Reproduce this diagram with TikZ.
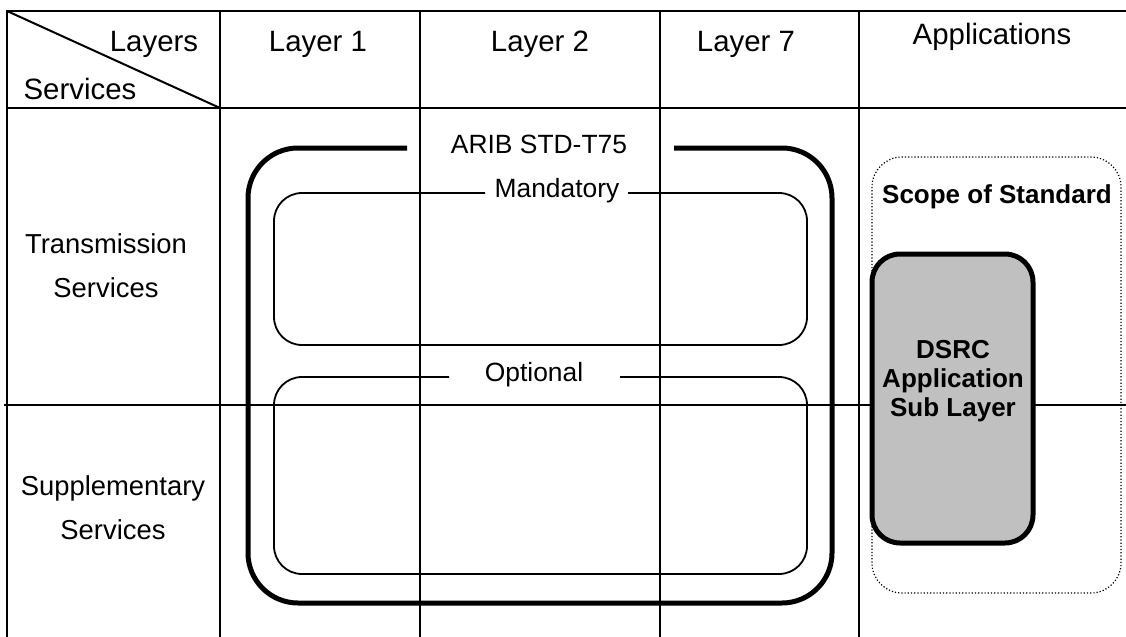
\documentclass[tikz,border=0pt]{standalone}
\usepackage{fontspec}
\setmainfont{Liberation Sans}
\usetikzlibrary{positioning}
\definecolor{dsrcgray}{RGB}{192,192,192}
\tikzset{%
  gridline/.style={line width=1pt},
  aribline/.style={line width=2.5pt, rounded corners=25pt},
  partline/.style={line width=0.9pt, rounded corners=14pt},
  scopeline/.style={line width=0.6pt, densely dotted, rounded corners=15pt},
  dsrcbox/.style={line width=2.5pt, rounded corners=14pt, fill=dsrcgray},
  headtext/.style={font=\fontsize{14.7}{18}\selectfont, inner sep=0pt, anchor=base},
  rowtext/.style={font=\fontsize{13.7}{22}\selectfont, inner sep=0pt, anchor=base, align=center},
  boxtext/.style={font=\fontsize{13.2}{16}\selectfont, inner sep=0pt, anchor=base},
  boldtext/.style={font=\fontsize{13}{14.5}\selectfont\bfseries, inner sep=0pt, anchor=base, align=center},
}

\begin{document}
\begin{tikzpicture}[x=0.5pt, y=-0.5pt]
\useasboundingbox (0,0) rectangle (1126,637);

% Draw the table grid
\draw[gridline] (1126,11) -- (7,11) -- (7,637);
\draw[gridline] (7,108) -- (1126,108);
\draw[gridline] (4,405) -- (1126,405);
\foreach \x in {220,420,660,859}
  \draw[gridline] (\x,11) -- (\x,637);
\draw[gridline] (7,11) -- (220,108); % corner diagonal

% Header texts
\node[headtext] (layers) at (154,51) {Layers};
\node[headtext] (services) at (80,99) {Services};
\node[headtext] (lone) at (318,51) {Layer 1};
\node[headtext] (ltwo) at (540,52) {Layer 2};
\node[headtext] (lseven) at (746,52) {Layer 7};
\node[headtext] (apps) at (992,45) {Applications};

% Row texts (base is the last line)
\node[rowtext] (trans) at (106,297) {Transmission\\Services};
\node[rowtext] (suppl) at (113,539) {Supplementary\\Services};

% Draw the ARIB STD-T75 frame, open at the top for its label
\draw[aribline] (407,148) -- (248,148) -- (248,603) -- (832,603) -- (832,148) -- (674,148);
\node[boxtext] (arib) at (539,153) {ARIB STD-T75};

% Mandatory and optional parts
\draw[partline] (485,193) -- (274,193) -- (274,345) -- (807,345) -- (807,193) -- (628,193);
\node[boxtext] (mand) at (557,197) {Mandatory};
\draw[partline] (449,377) -- (274,377) -- (274,574) -- (807,574) -- (807,377) -- (620,377);
\node[boxtext] (opt) at (534,381) {Optional};

% Scope of standard and the application sub layer
\draw[scopeline] (872,157) rectangle (1121,593);
\node[boldtext] (scope) at (997,203) {Scope of Standard};
\draw[dsrcbox] (872,254) rectangle (1033,543);
\node[boldtext] (dsrc) at (953,416) {DSRC\\Application\\Sub Layer};

\end{tikzpicture}
\end{document}
